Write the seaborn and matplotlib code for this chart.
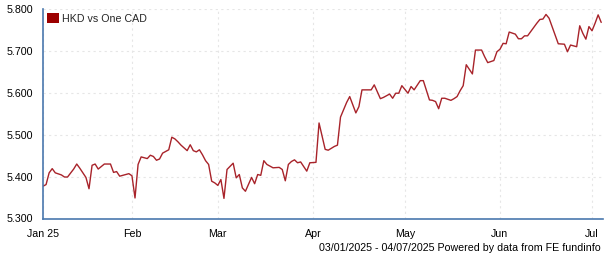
import matplotlib
matplotlib.use("Agg")
import matplotlib.pyplot as plt
from matplotlib.patches import Patch
import seaborn as sns
import pandas as pd
import numpy as np

# ---------------- data ----------------
series_name = "HKD vs One CAD"
dates = [
    "2025-01-03", "2025-01-04", "2025-01-05", "2025-01-06", "2025-01-07", "2025-01-09",
    "2025-01-10", "2025-01-11", "2025-01-13", "2025-01-14", "2025-01-15", "2025-01-17",
    "2025-01-18", "2025-01-19", "2025-01-20", "2025-01-21", "2025-01-23", "2025-01-25",
    "2025-01-26", "2025-01-27", "2025-01-28", "2025-01-30", "2025-01-31", "2025-02-01",
    "2025-02-02", "2025-02-03", "2025-02-04", "2025-02-06", "2025-02-07", "2025-02-08",
    "2025-02-09", "2025-02-10", "2025-02-11", "2025-02-13", "2025-02-14", "2025-02-15",
    "2025-02-16", "2025-02-17", "2025-02-19", "2025-02-20", "2025-02-21", "2025-02-22",
    "2025-02-23", "2025-02-24", "2025-02-25", "2025-02-26", "2025-02-27", "2025-02-28",
    "2025-03-01", "2025-03-02", "2025-03-03", "2025-03-04", "2025-03-06", "2025-03-07",
    "2025-03-08", "2025-03-09", "2025-03-10", "2025-03-12", "2025-03-13", "2025-03-14",
    "2025-03-15", "2025-03-16", "2025-03-17", "2025-03-19", "2025-03-21", "2025-03-22",
    "2025-03-23", "2025-03-24", "2025-03-25", "2025-03-26", "2025-03-27", "2025-03-28",
    "2025-03-30", "2025-03-31", "2025-04-02", "2025-04-03", "2025-04-05", "2025-04-06",
    "2025-04-08", "2025-04-09", "2025-04-10", "2025-04-12", "2025-04-13", "2025-04-15",
    "2025-04-16", "2025-04-17", "2025-04-20", "2025-04-21", "2025-04-23", "2025-04-24",
    "2025-04-26", "2025-04-27", "2025-04-28", "2025-04-29", "2025-04-30", "2025-05-02",
    "2025-05-03", "2025-05-04", "2025-05-06", "2025-05-07", "2025-05-09", "2025-05-10",
    "2025-05-11", "2025-05-12", "2025-05-13", "2025-05-14", "2025-05-16", "2025-05-17",
    "2025-05-18", "2025-05-19", "2025-05-20", "2025-05-21", "2025-05-23", "2025-05-24",
    "2025-05-26", "2025-05-27", "2025-05-28", "2025-05-30", "2025-05-31", "2025-06-01",
    "2025-06-02", "2025-06-03", "2025-06-04", "2025-06-06", "2025-06-07", "2025-06-08",
    "2025-06-09", "2025-06-10", "2025-06-11", "2025-06-13", "2025-06-14", "2025-06-15",
    "2025-06-16", "2025-06-17", "2025-06-20", "2025-06-22", "2025-06-23", "2025-06-24",
    "2025-06-26", "2025-06-27", "2025-06-28", "2025-06-29", "2025-06-30", "2025-07-01",
    "2025-07-02", "2025-07-03", "2025-07-04",
]
values = [
    5.377, 5.381, 5.409, 5.419, 5.409, 5.404,
    5.399, 5.399, 5.418, 5.430, 5.420, 5.398,
    5.371, 5.427, 5.430, 5.418, 5.430, 5.430,
    5.410, 5.412, 5.401, 5.405, 5.407, 5.402,
    5.349, 5.429, 5.447, 5.443, 5.451, 5.448,
    5.439, 5.442, 5.456, 5.464, 5.494, 5.490,
    5.483, 5.475, 5.462, 5.476, 5.462, 5.459,
    5.464, 5.452, 5.438, 5.429, 5.389, 5.385,
    5.379, 5.393, 5.348, 5.417, 5.432, 5.397,
    5.405, 5.373, 5.365, 5.398, 5.383, 5.405,
    5.403, 5.438, 5.429, 5.421, 5.422, 5.417,
    5.390, 5.429, 5.436, 5.440, 5.433, 5.435,
    5.413, 5.433, 5.434, 5.528, 5.465, 5.463,
    5.472, 5.475, 5.542, 5.577, 5.591, 5.552,
    5.567, 5.607, 5.607, 5.619, 5.586, 5.589,
    5.597, 5.587, 5.599, 5.599, 5.617, 5.599,
    5.615, 5.607, 5.629, 5.629, 5.583, 5.582,
    5.579, 5.562, 5.587, 5.587, 5.582, 5.586,
    5.591, 5.605, 5.617, 5.667, 5.645, 5.702,
    5.702, 5.686, 5.672, 5.677, 5.698, 5.704,
    5.718, 5.717, 5.745, 5.740, 5.729, 5.729,
    5.736, 5.736, 5.746, 5.766, 5.775, 5.776,
    5.787, 5.778, 5.717, 5.716, 5.698, 5.714,
    5.710, 5.760, 5.742, 5.728, 5.758, 5.748,
    5.766, 5.786, 5.768,
]
y_ticks = [5.300, 5.400, 5.500, 5.600, 5.700, 5.800]
x_tick_dates = ["2025-01-03", "2025-02-01", "2025-03-01", "2025-04-01",
                "2025-05-01", "2025-06-01", "2025-07-01"]
x_tick_labels = ["Jan 25", "Feb", "Mar", "Apr", "May", "Jun", "Jul"]
caption = "03/01/2025 - 04/07/2025 Powered by data from FE fundinfo"

# ---------------- style ----------------
sns.set_style("white")
plt.rcParams["font.family"] = ["Liberation Sans", "DejaVu Sans"]
FS = 7.7
LINE = "#a8232a"
SPINE = "#4a78ae"

df = pd.DataFrame({"date": pd.to_datetime(dates), "value": values})

fig = plt.figure(figsize=(6.05, 2.6), dpi=100)
ax = fig.add_axes([43 / 605, 1 - 218.5 / 260, (603 - 43) / 605, (218.5 - 9) / 260])

sns.lineplot(data=df, x="date", y="value", ax=ax, color=LINE,
             linewidth=1.0, legend=False)

x_left = pd.Timestamp("2025-01-03")
x_right = pd.Timestamp("2025-07-04 14:00")
ax.set_xlim(x_left, x_right)
ax.set_ylim(y_ticks[0], y_ticks[-1])

ax.set_yticks(y_ticks)
ax.set_yticklabels([f"{v:.3f}" for v in y_ticks])
ax.set_xticks(pd.to_datetime(x_tick_dates))
ax.set_xticklabels(x_tick_labels)
ax.set_xticks([x_right], minor=True)

ax.set_xlabel("")
ax.set_ylabel("")

ax.grid(True, which="major", color="#e6e6e6", linestyle=(0, (2, 3)), linewidth=0.8)
ax.set_axisbelow(True)

for side in ("top", "right"):
    ax.spines[side].set_visible(False)
for side in ("left", "bottom"):
    ax.spines[side].set_color(SPINE)
    ax.spines[side].set_linewidth(1.2)

ax.tick_params(axis="both", which="both", direction="out", length=3.5, width=1,
               color=SPINE, labelsize=FS, labelcolor="black")
ax.tick_params(axis="y", pad=3.5)
ax.tick_params(axis="x", pad=4)

handles = [Patch(facecolor="#9c0000", edgecolor="none", label=series_name)]
ax.legend(handles=handles, loc="upper left", frameon=False, fontsize=FS,
          handlelength=1.1, handleheight=1.0, handletextpad=0.3,
          borderpad=0, borderaxespad=0.4)

fig.text(601 / 605, 1 - 248 / 260, caption, ha="right", va="center",
         fontsize=FS, color="black")

fig.savefig("out.png", dpi=100)
